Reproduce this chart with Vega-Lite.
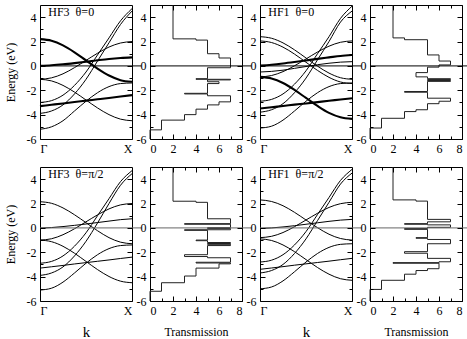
{
"$schema": "https://vega.github.io/schema/vega-lite/v6.json",
"padding": {"left": 3, "top": 2, "right": 0, "bottom": 0},
"background": "white",
"datasets": {
"b3a": [
{"band":"a","deg":2,"k":0,"E":2.2},{"band":"a","deg":2,"k":0.125,"E":2.07},{"band":"a","deg":2,"k":0.25,"E":1.69},{"band":"a","deg":2,"k":0.375,"E":1.12},{"band":"a","deg":2,"k":0.5,"E":0.45},{"band":"a","deg":2,"k":0.625,"E":-0.22},{"band":"a","deg":2,"k":0.75,"E":-0.79},{"band":"a","deg":2,"k":0.875,"E":-1.17},{"band":"a","deg":2,"k":1,"E":-1.3},
{"band":"b","deg":2,"k":0,"E":0.0},{"band":"b","deg":2,"k":0.125,"E":0.05},{"band":"b","deg":2,"k":0.25,"E":0.13},{"band":"b","deg":2,"k":0.375,"E":0.23},{"band":"b","deg":2,"k":0.5,"E":0.34},{"band":"b","deg":2,"k":0.625,"E":0.46},{"band":"b","deg":2,"k":0.75,"E":0.57},{"band":"b","deg":2,"k":0.875,"E":0.65},{"band":"b","deg":2,"k":1,"E":0.7},
{"band":"c1","deg":1,"k":0,"E":-1.1},{"band":"c1","deg":1,"k":0.125,"E":-0.98},{"band":"c1","deg":1,"k":0.25,"E":-0.65},{"band":"c1","deg":1,"k":0.375,"E":-0.14},{"band":"c1","deg":1,"k":0.5,"E":0.45},{"band":"c1","deg":1,"k":0.625,"E":1.04},{"band":"c1","deg":1,"k":0.75,"E":1.55},{"band":"c1","deg":1,"k":0.875,"E":1.88},{"band":"c1","deg":1,"k":1,"E":2.0},
{"band":"c2","deg":1,"k":0,"E":-1.1},{"band":"c2","deg":1,"k":0.125,"E":-1.23},{"band":"c2","deg":1,"k":0.25,"E":-1.6},{"band":"c2","deg":1,"k":0.375,"E":-2.15},{"band":"c2","deg":1,"k":0.5,"E":-2.8},{"band":"c2","deg":1,"k":0.625,"E":-3.45},{"band":"c2","deg":1,"k":0.75,"E":-4.0},{"band":"c2","deg":1,"k":0.875,"E":-4.37},{"band":"c2","deg":1,"k":1,"E":-4.5},
{"band":"d","deg":1,"k":0,"E":-3.0},{"band":"d","deg":1,"k":0.125,"E":-2.85},{"band":"d","deg":1,"k":0.25,"E":-2.4},{"band":"d","deg":1,"k":0.375,"E":-1.6},{"band":"d","deg":1,"k":0.5,"E":-0.5},{"band":"d","deg":1,"k":0.625,"E":0.9},{"band":"d","deg":1,"k":0.75,"E":2.3},{"band":"d","deg":1,"k":0.875,"E":3.7},{"band":"d","deg":1,"k":1,"E":4.7},
{"band":"e","deg":1,"k":0,"E":-3.9},{"band":"e","deg":1,"k":0.125,"E":-3.7},{"band":"e","deg":1,"k":0.25,"E":-3.2},{"band":"e","deg":1,"k":0.375,"E":-2.3},{"band":"e","deg":1,"k":0.5,"E":-1.1},{"band":"e","deg":1,"k":0.625,"E":0.4},{"band":"e","deg":1,"k":0.75,"E":1.9},{"band":"e","deg":1,"k":0.875,"E":3.4},{"band":"e","deg":1,"k":1,"E":4.5},
{"band":"f","deg":2,"k":0,"E":-3.3},{"band":"f","deg":2,"k":0.125,"E":-3.19},{"band":"f","deg":2,"k":0.25,"E":-3.08},{"band":"f","deg":2,"k":0.375,"E":-2.96},{"band":"f","deg":2,"k":0.5,"E":-2.85},{"band":"f","deg":2,"k":0.625,"E":-2.74},{"band":"f","deg":2,"k":0.75,"E":-2.63},{"band":"f","deg":2,"k":0.875,"E":-2.51},{"band":"f","deg":2,"k":1,"E":-2.4},
{"band":"g","deg":1,"k":0,"E":-5.2},{"band":"g","deg":1,"k":0.125,"E":-5.0},{"band":"g","deg":1,"k":0.25,"E":-4.5},{"band":"g","deg":1,"k":0.375,"E":-3.7},{"band":"g","deg":1,"k":0.5,"E":-2.9},{"band":"g","deg":1,"k":0.625,"E":-2.2},{"band":"g","deg":1,"k":0.75,"E":-1.7},{"band":"g","deg":1,"k":0.875,"E":-1.45},{"band":"g","deg":1,"k":1,"E":-1.4}
],
"b1a": [
{"band":"a1","deg":1,"k":0,"E":2.4},{"band":"a1","deg":1,"k":0.125,"E":2.27},{"band":"a1","deg":1,"k":0.25,"E":1.89},{"band":"a1","deg":1,"k":0.375,"E":1.32},{"band":"a1","deg":1,"k":0.5,"E":0.65},{"band":"a1","deg":1,"k":0.625,"E":-0.02},{"band":"a1","deg":1,"k":0.75,"E":-0.59},{"band":"a1","deg":1,"k":0.875,"E":-0.97},{"band":"a1","deg":1,"k":1,"E":-1.1},
{"band":"a2","deg":1,"k":0,"E":2.05},{"band":"a2","deg":1,"k":0.125,"E":1.92},{"band":"a2","deg":1,"k":0.25,"E":1.54},{"band":"a2","deg":1,"k":0.375,"E":0.97},{"band":"a2","deg":1,"k":0.5,"E":0.3},{"band":"a2","deg":1,"k":0.625,"E":-0.37},{"band":"a2","deg":1,"k":0.75,"E":-0.94},{"band":"a2","deg":1,"k":0.875,"E":-1.32},{"band":"a2","deg":1,"k":1,"E":-1.45},
{"band":"b1","deg":2,"k":0,"E":0.03},{"band":"b1","deg":2,"k":0.125,"E":0.1},{"band":"b1","deg":2,"k":0.25,"E":0.2},{"band":"b1","deg":2,"k":0.375,"E":0.32},{"band":"b1","deg":2,"k":0.5,"E":0.45},{"band":"b1","deg":2,"k":0.625,"E":0.58},{"band":"b1","deg":2,"k":0.75,"E":0.7},{"band":"b1","deg":2,"k":0.875,"E":0.82},{"band":"b1","deg":2,"k":1,"E":0.9},
{"band":"b2","deg":1,"k":0,"E":-0.5},{"band":"b2","deg":1,"k":0.125,"E":-0.45},{"band":"b2","deg":1,"k":0.25,"E":-0.35},{"band":"b2","deg":1,"k":0.375,"E":-0.2},{"band":"b2","deg":1,"k":0.5,"E":-0.05},{"band":"b2","deg":1,"k":0.625,"E":0.1},{"band":"b2","deg":1,"k":0.75,"E":0.22},{"band":"b2","deg":1,"k":0.875,"E":0.31},{"band":"b2","deg":1,"k":1,"E":0.35},
{"band":"c1","deg":1,"k":0,"E":-0.9},{"band":"c1","deg":1,"k":0.125,"E":-0.79},{"band":"c1","deg":1,"k":0.25,"E":-0.47},{"band":"c1","deg":1,"k":0.375,"E":0.01},{"band":"c1","deg":1,"k":0.5,"E":0.57},{"band":"c1","deg":1,"k":0.625,"E":1.14},{"band":"c1","deg":1,"k":0.75,"E":1.62},{"band":"c1","deg":1,"k":0.875,"E":1.94},{"band":"c1","deg":1,"k":1,"E":2.05},
{"band":"c2","deg":2,"k":0,"E":-0.9},{"band":"c2","deg":2,"k":0.125,"E":-1.03},{"band":"c2","deg":2,"k":0.25,"E":-1.4},{"band":"c2","deg":2,"k":0.375,"E":-1.97},{"band":"c2","deg":2,"k":0.5,"E":-2.63},{"band":"c2","deg":2,"k":0.625,"E":-3.29},{"band":"c2","deg":2,"k":0.75,"E":-3.86},{"band":"c2","deg":2,"k":0.875,"E":-4.22},{"band":"c2","deg":2,"k":1,"E":-4.35},
{"band":"d","deg":1,"k":0,"E":-2.9},{"band":"d","deg":1,"k":0.125,"E":-2.75},{"band":"d","deg":1,"k":0.25,"E":-2.3},{"band":"d","deg":1,"k":0.375,"E":-1.5},{"band":"d","deg":1,"k":0.5,"E":-0.4},{"band":"d","deg":1,"k":0.625,"E":1.0},{"band":"d","deg":1,"k":0.75,"E":2.4},{"band":"d","deg":1,"k":0.875,"E":3.9},{"band":"d","deg":1,"k":1,"E":4.9},
{"band":"e","deg":1,"k":0,"E":-3.8},{"band":"e","deg":1,"k":0.125,"E":-3.6},{"band":"e","deg":1,"k":0.25,"E":-3.1},{"band":"e","deg":1,"k":0.375,"E":-2.2},{"band":"e","deg":1,"k":0.5,"E":-1.0},{"band":"e","deg":1,"k":0.625,"E":0.5},{"band":"e","deg":1,"k":0.75,"E":2.0},{"band":"e","deg":1,"k":0.875,"E":3.6},{"band":"e","deg":1,"k":1,"E":4.5},
{"band":"f","deg":2,"k":0,"E":-3.5},{"band":"f","deg":2,"k":0.125,"E":-3.39},{"band":"f","deg":2,"k":0.25,"E":-3.29},{"band":"f","deg":2,"k":0.375,"E":-3.18},{"band":"f","deg":2,"k":0.5,"E":-3.08},{"band":"f","deg":2,"k":0.625,"E":-2.97},{"band":"f","deg":2,"k":0.75,"E":-2.86},{"band":"f","deg":2,"k":0.875,"E":-2.76},{"band":"f","deg":2,"k":1,"E":-2.65},
{"band":"g","deg":1,"k":0,"E":-5.1},{"band":"g","deg":1,"k":0.125,"E":-4.95},{"band":"g","deg":1,"k":0.25,"E":-4.45},{"band":"g","deg":1,"k":0.375,"E":-3.7},{"band":"g","deg":1,"k":0.5,"E":-2.9},{"band":"g","deg":1,"k":0.625,"E":-2.2},{"band":"g","deg":1,"k":0.75,"E":-1.7},{"band":"g","deg":1,"k":0.875,"E":-1.45},{"band":"g","deg":1,"k":1,"E":-1.4}
],
"b3b": [
{"band":"a","deg":1,"k":0,"E":2.15},{"band":"a","deg":1,"k":0.125,"E":2.02},{"band":"a","deg":1,"k":0.25,"E":1.64},{"band":"a","deg":1,"k":0.375,"E":1.08},{"band":"a","deg":1,"k":0.5,"E":0.43},{"band":"a","deg":1,"k":0.625,"E":-0.23},{"band":"a","deg":1,"k":0.75,"E":-0.8},{"band":"a","deg":1,"k":0.875,"E":-1.17},{"band":"a","deg":1,"k":1,"E":-1.3},
{"band":"b","deg":1,"k":0,"E":-0.02},{"band":"b","deg":1,"k":0.125,"E":0.03},{"band":"b","deg":1,"k":0.25,"E":0.11},{"band":"b","deg":1,"k":0.375,"E":0.21},{"band":"b","deg":1,"k":0.5,"E":0.32},{"band":"b","deg":1,"k":0.625,"E":0.44},{"band":"b","deg":1,"k":0.75,"E":0.56},{"band":"b","deg":1,"k":0.875,"E":0.68},{"band":"b","deg":1,"k":1,"E":0.75},
{"band":"c1","deg":1,"k":0,"E":-1.0},{"band":"c1","deg":1,"k":0.125,"E":-0.89},{"band":"c1","deg":1,"k":0.25,"E":-0.56},{"band":"c1","deg":1,"k":0.375,"E":-0.07},{"band":"c1","deg":1,"k":0.5,"E":0.5},{"band":"c1","deg":1,"k":0.625,"E":1.07},{"band":"c1","deg":1,"k":0.75,"E":1.56},{"band":"c1","deg":1,"k":0.875,"E":1.89},{"band":"c1","deg":1,"k":1,"E":2.0},
{"band":"c2","deg":1,"k":0,"E":-1.0},{"band":"c2","deg":1,"k":0.125,"E":-1.13},{"band":"c2","deg":1,"k":0.25,"E":-1.51},{"band":"c2","deg":1,"k":0.375,"E":-2.08},{"band":"c2","deg":1,"k":0.5,"E":-2.75},{"band":"c2","deg":1,"k":0.625,"E":-3.42},{"band":"c2","deg":1,"k":0.75,"E":-3.99},{"band":"c2","deg":1,"k":0.875,"E":-4.37},{"band":"c2","deg":1,"k":1,"E":-4.5},
{"band":"d","deg":1,"k":0,"E":-2.9},{"band":"d","deg":1,"k":0.125,"E":-2.75},{"band":"d","deg":1,"k":0.25,"E":-2.3},{"band":"d","deg":1,"k":0.375,"E":-1.5},{"band":"d","deg":1,"k":0.5,"E":-0.4},{"band":"d","deg":1,"k":0.625,"E":1.0},{"band":"d","deg":1,"k":0.75,"E":2.4},{"band":"d","deg":1,"k":0.875,"E":3.8},{"band":"d","deg":1,"k":1,"E":4.7},
{"band":"e","deg":1,"k":0,"E":-3.9},{"band":"e","deg":1,"k":0.125,"E":-3.7},{"band":"e","deg":1,"k":0.25,"E":-3.2},{"band":"e","deg":1,"k":0.375,"E":-2.3},{"band":"e","deg":1,"k":0.5,"E":-1.1},{"band":"e","deg":1,"k":0.625,"E":0.4},{"band":"e","deg":1,"k":0.75,"E":2.0},{"band":"e","deg":1,"k":0.875,"E":3.5},{"band":"e","deg":1,"k":1,"E":4.45},
{"band":"f","deg":1,"k":0,"E":-3.3},{"band":"f","deg":1,"k":0.125,"E":-3.19},{"band":"f","deg":1,"k":0.25,"E":-3.08},{"band":"f","deg":1,"k":0.375,"E":-2.96},{"band":"f","deg":1,"k":0.5,"E":-2.85},{"band":"f","deg":1,"k":0.625,"E":-2.74},{"band":"f","deg":1,"k":0.75,"E":-2.63},{"band":"f","deg":1,"k":0.875,"E":-2.51},{"band":"f","deg":1,"k":1,"E":-2.4},
{"band":"g","deg":1,"k":0,"E":-5.1},{"band":"g","deg":1,"k":0.125,"E":-4.95},{"band":"g","deg":1,"k":0.25,"E":-4.45},{"band":"g","deg":1,"k":0.375,"E":-3.7},{"band":"g","deg":1,"k":0.5,"E":-2.9},{"band":"g","deg":1,"k":0.625,"E":-2.2},{"band":"g","deg":1,"k":0.75,"E":-1.7},{"band":"g","deg":1,"k":0.875,"E":-1.45},{"band":"g","deg":1,"k":1,"E":-1.4}
],
"b1b": [
{"band":"a","deg":1,"k":0,"E":2.3},{"band":"a","deg":1,"k":0.125,"E":2.17},{"band":"a","deg":1,"k":0.25,"E":1.82},{"band":"a","deg":1,"k":0.375,"E":1.28},{"band":"a","deg":1,"k":0.5,"E":0.65},{"band":"a","deg":1,"k":0.625,"E":0.02},{"band":"a","deg":1,"k":0.75,"E":-0.52},{"band":"a","deg":1,"k":0.875,"E":-0.87},{"band":"a","deg":1,"k":1,"E":-1.0},
{"band":"b","deg":1,"k":0,"E":-0.05},{"band":"b","deg":1,"k":0.125,"E":0.0},{"band":"b","deg":1,"k":0.25,"E":0.08},{"band":"b","deg":1,"k":0.375,"E":0.18},{"band":"b","deg":1,"k":0.5,"E":0.3},{"band":"b","deg":1,"k":0.625,"E":0.42},{"band":"b","deg":1,"k":0.75,"E":0.54},{"band":"b","deg":1,"k":0.875,"E":0.64},{"band":"b","deg":1,"k":1,"E":0.7},
{"band":"c1","deg":1,"k":0,"E":-0.8},{"band":"c1","deg":1,"k":0.125,"E":-0.69},{"band":"c1","deg":1,"k":0.25,"E":-0.38},{"band":"c1","deg":1,"k":0.375,"E":0.1},{"band":"c1","deg":1,"k":0.5,"E":0.65},{"band":"c1","deg":1,"k":0.625,"E":1.2},{"band":"c1","deg":1,"k":0.75,"E":1.68},{"band":"c1","deg":1,"k":0.875,"E":1.99},{"band":"c1","deg":1,"k":1,"E":2.1},
{"band":"c2","deg":1,"k":0,"E":-0.9},{"band":"c2","deg":1,"k":0.125,"E":-1.03},{"band":"c2","deg":1,"k":0.25,"E":-1.4},{"band":"c2","deg":1,"k":0.375,"E":-1.95},{"band":"c2","deg":1,"k":0.5,"E":-2.6},{"band":"c2","deg":1,"k":0.625,"E":-3.25},{"band":"c2","deg":1,"k":0.75,"E":-3.8},{"band":"c2","deg":1,"k":0.875,"E":-4.17},{"band":"c2","deg":1,"k":1,"E":-4.3},
{"band":"d","deg":1,"k":0,"E":-2.8},{"band":"d","deg":1,"k":0.125,"E":-2.65},{"band":"d","deg":1,"k":0.25,"E":-2.2},{"band":"d","deg":1,"k":0.375,"E":-1.4},{"band":"d","deg":1,"k":0.5,"E":-0.3},{"band":"d","deg":1,"k":0.625,"E":1.1},{"band":"d","deg":1,"k":0.75,"E":2.5},{"band":"d","deg":1,"k":0.875,"E":3.9},{"band":"d","deg":1,"k":1,"E":4.8},
{"band":"e","deg":1,"k":0,"E":-3.7},{"band":"e","deg":1,"k":0.125,"E":-3.5},{"band":"e","deg":1,"k":0.25,"E":-3.0},{"band":"e","deg":1,"k":0.375,"E":-2.1},{"band":"e","deg":1,"k":0.5,"E":-0.9},{"band":"e","deg":1,"k":0.625,"E":0.6},{"band":"e","deg":1,"k":0.75,"E":2.1},{"band":"e","deg":1,"k":0.875,"E":3.6},{"band":"e","deg":1,"k":1,"E":4.5},
{"band":"f","deg":1,"k":0,"E":-3.4},{"band":"f","deg":1,"k":0.125,"E":-3.29},{"band":"f","deg":1,"k":0.25,"E":-3.18},{"band":"f","deg":1,"k":0.375,"E":-3.06},{"band":"f","deg":1,"k":0.5,"E":-2.95},{"band":"f","deg":1,"k":0.625,"E":-2.84},{"band":"f","deg":1,"k":0.75,"E":-2.73},{"band":"f","deg":1,"k":0.875,"E":-2.61},{"band":"f","deg":1,"k":1,"E":-2.5},
{"band":"g","deg":1,"k":0,"E":-5.0},{"band":"g","deg":1,"k":0.125,"E":-4.85},{"band":"g","deg":1,"k":0.25,"E":-4.35},{"band":"g","deg":1,"k":0.375,"E":-3.6},{"band":"g","deg":1,"k":0.5,"E":-2.8},{"band":"g","deg":1,"k":0.625,"E":-2.1},{"band":"g","deg":1,"k":0.75,"E":-1.6},{"band":"g","deg":1,"k":0.875,"E":-1.35},{"band":"g","deg":1,"k":1,"E":-1.3}
],
"t3a": [
{"i":0,"T":2,"E":5},{"i":1,"T":2,"E":2.22},{"i":2,"T":4,"E":2.22},{"i":3,"T":4,"E":2.12},{"i":4,"T":5,"E":2.12},{"i":5,"T":5,"E":1.0},{"i":6,"T":6,"E":1.0},{"i":7,"T":6,"E":0.65},{"i":8,"T":7,"E":0.65},{"i":9,"T":7,"E":-0.15},{"i":10,"T":5,"E":-0.15},{"i":11,"T":5,"E":-1.05},{"i":12,"T":4,"E":-1.05},{"i":13,"T":4,"E":-1.1},{"i":14,"T":7,"E":-1.1},{"i":15,"T":7,"E":-1.15},{"i":16,"T":5,"E":-1.15},{"i":17,"T":5,"E":-1.3},{"i":18,"T":6,"E":-1.3},{"i":19,"T":6,"E":-1.45},{"i":20,"T":5,"E":-1.45},{"i":21,"T":5,"E":-2.25},{"i":22,"T":3,"E":-2.25},{"i":23,"T":3,"E":-2.3},{"i":24,"T":5,"E":-2.3},{"i":25,"T":5,"E":-2.45},{"i":26,"T":7,"E":-2.45},{"i":27,"T":7,"E":-2.95},{"i":28,"T":6,"E":-2.95},{"i":29,"T":6,"E":-3.2},{"i":30,"T":5,"E":-3.2},{"i":31,"T":5,"E":-3.55},{"i":32,"T":4,"E":-3.55},{"i":33,"T":4,"E":-4.0},{"i":34,"T":3,"E":-4.0},{"i":35,"T":3,"E":-4.45},{"i":36,"T":1,"E":-4.45},{"i":37,"T":1,"E":-5.25},{"i":38,"T":0,"E":-5.25},{"i":39,"T":0,"E":-6}
],
"t1a": [
{"i":0,"T":2,"E":5},{"i":1,"T":2,"E":2.3},{"i":2,"T":3,"E":2.3},{"i":3,"T":3,"E":2.15},{"i":4,"T":5,"E":2.15},{"i":5,"T":5,"E":0.9},{"i":6,"T":6,"E":0.9},{"i":7,"T":6,"E":0.4},{"i":8,"T":7,"E":0.4},{"i":9,"T":7,"E":0.08},{"i":10,"T":6,"E":0.08},{"i":11,"T":6,"E":-0.1},{"i":12,"T":5,"E":-0.1},{"i":13,"T":5,"E":-0.55},{"i":14,"T":4,"E":-0.55},{"i":15,"T":4,"E":-0.9},{"i":16,"T":5,"E":-0.9},{"i":17,"T":5,"E":-1.05},{"i":18,"T":7,"E":-1.05},{"i":19,"T":7,"E":-1.12},{"i":20,"T":5,"E":-1.12},{"i":21,"T":5,"E":-1.2},{"i":22,"T":7,"E":-1.2},{"i":23,"T":7,"E":-1.27},{"i":24,"T":5,"E":-1.27},{"i":25,"T":5,"E":-2.1},{"i":26,"T":3,"E":-2.1},{"i":27,"T":3,"E":-2.16},{"i":28,"T":5,"E":-2.16},{"i":29,"T":5,"E":-2.65},{"i":30,"T":7,"E":-2.65},{"i":31,"T":7,"E":-2.9},{"i":32,"T":6,"E":-2.9},{"i":33,"T":6,"E":-3.1},{"i":34,"T":5,"E":-3.1},{"i":35,"T":5,"E":-3.6},{"i":36,"T":4,"E":-3.6},{"i":37,"T":4,"E":-3.75},{"i":38,"T":3,"E":-3.75},{"i":39,"T":3,"E":-4.3},{"i":40,"T":1,"E":-4.3},{"i":41,"T":1,"E":-5.1},{"i":42,"T":0,"E":-5.1},{"i":43,"T":0,"E":-6}
],
"t3b": [
{"i":0,"T":2,"E":5},{"i":1,"T":2,"E":2.19},{"i":2,"T":4,"E":2.19},{"i":3,"T":4,"E":2.1},{"i":4,"T":5,"E":2.1},{"i":5,"T":5,"E":0.75},{"i":6,"T":7,"E":0.75},{"i":7,"T":7,"E":0.35},{"i":8,"T":3,"E":0.35},{"i":9,"T":3,"E":0.3},{"i":10,"T":7,"E":0.3},{"i":11,"T":7,"E":0.02},{"i":12,"T":5,"E":0.02},{"i":13,"T":5,"E":-0.05},{"i":14,"T":7,"E":-0.05},{"i":15,"T":7,"E":-0.15},{"i":16,"T":3,"E":-0.15},{"i":17,"T":3,"E":-0.2},{"i":18,"T":5,"E":-0.2},{"i":19,"T":5,"E":-1.0},{"i":20,"T":4,"E":-1.0},{"i":21,"T":4,"E":-1.05},{"i":22,"T":5,"E":-1.05},{"i":23,"T":5,"E":-1.2},{"i":24,"T":7,"E":-1.2},{"i":25,"T":7,"E":-1.28},{"i":26,"T":5,"E":-1.28},{"i":27,"T":5,"E":-1.35},{"i":28,"T":7,"E":-1.35},{"i":29,"T":7,"E":-1.45},{"i":30,"T":5,"E":-1.45},{"i":31,"T":5,"E":-2.2},{"i":32,"T":3,"E":-2.2},{"i":33,"T":3,"E":-2.35},{"i":34,"T":5,"E":-2.35},{"i":35,"T":5,"E":-2.45},{"i":36,"T":7,"E":-2.45},{"i":37,"T":7,"E":-2.82},{"i":38,"T":4,"E":-2.82},{"i":39,"T":4,"E":-2.88},{"i":40,"T":7,"E":-2.88},{"i":41,"T":7,"E":-2.95},{"i":42,"T":6,"E":-2.95},{"i":43,"T":6,"E":-3.3},{"i":44,"T":4,"E":-3.3},{"i":45,"T":4,"E":-3.95},{"i":46,"T":3,"E":-3.95},{"i":47,"T":3,"E":-4.5},{"i":48,"T":1,"E":-4.5},{"i":49,"T":1,"E":-5.2},{"i":50,"T":0,"E":-5.2},{"i":51,"T":0,"E":-6}
],
"t1b": [
{"i":0,"T":2,"E":5},{"i":1,"T":2,"E":2.3},{"i":2,"T":4,"E":2.3},{"i":3,"T":4,"E":2.2},{"i":4,"T":5,"E":2.2},{"i":5,"T":5,"E":0.7},{"i":6,"T":7,"E":0.7},{"i":7,"T":7,"E":0.5},{"i":8,"T":5,"E":0.5},{"i":9,"T":5,"E":0.35},{"i":10,"T":3,"E":0.35},{"i":11,"T":3,"E":0.3},{"i":12,"T":5,"E":0.3},{"i":13,"T":5,"E":0.25},{"i":14,"T":7,"E":0.25},{"i":15,"T":7,"E":0.05},{"i":16,"T":5,"E":0.05},{"i":17,"T":5,"E":-0.05},{"i":18,"T":3,"E":-0.05},{"i":19,"T":3,"E":-0.12},{"i":20,"T":5,"E":-0.12},{"i":21,"T":5,"E":-0.8},{"i":22,"T":4,"E":-0.8},{"i":23,"T":4,"E":-0.85},{"i":24,"T":5,"E":-0.85},{"i":25,"T":5,"E":-0.95},{"i":26,"T":7,"E":-0.95},{"i":27,"T":7,"E":-1.3},{"i":28,"T":5,"E":-1.3},{"i":29,"T":5,"E":-1.95},{"i":30,"T":3,"E":-1.95},{"i":31,"T":3,"E":-2.08},{"i":32,"T":5,"E":-2.08},{"i":33,"T":5,"E":-2.5},{"i":34,"T":7,"E":-2.5},{"i":35,"T":7,"E":-2.78},{"i":36,"T":6,"E":-2.78},{"i":37,"T":6,"E":-2.85},{"i":38,"T":2,"E":-2.85},{"i":39,"T":2,"E":-2.9},{"i":40,"T":6,"E":-2.9},{"i":41,"T":6,"E":-3.35},{"i":42,"T":5,"E":-3.35},{"i":43,"T":5,"E":-3.5},{"i":44,"T":4,"E":-3.5},{"i":45,"T":4,"E":-3.8},{"i":46,"T":3,"E":-3.8},{"i":47,"T":3,"E":-4.3},{"i":48,"T":1,"E":-4.3},{"i":49,"T":1,"E":-5.05},{"i":50,"T":0,"E":-5.05},{"i":51,"T":0,"E":-6}
]
},
"columns": 4,
"spacing": {"row": 28, "column": 18},
"bounds": "flush",
"concat": [
{"width": 92, "height": 134,
 "layer": [
  {"data": {"name": "b3a"}, "mark": {"type": "line", "interpolate": "monotone", "color": "black"},
   "encoding": {
    "x": {"field": "k", "type": "quantitative", "scale": {"domain": [0, 1]}, "axis": {"orient": "bottom", "values": [0, 1], "ticks": false, "labelExpr": "datum.value === 0 ? 'Γ' : 'X'", "labelPadding": 4, "title": null}},
    "y": {"field": "E", "type": "quantitative", "scale": {"domain": [-6, 5], "nice": false, "zero": false}, "axis": {"orient": "left", "values": [-6,-4,-2,0,2,4], "offset": -5, "tickSize": 5, "zindex": 1, "labelExpr": "'' + datum.value", "labelPadding": 4, "title": "Energy (eV)", "titlePadding": 9}},
    "detail": {"field": "band"},
    "strokeWidth": {"field": "deg", "type": "quantitative", "scale": {"domain": [1, 2], "range": [1.0, 2.1]}, "legend": null}}},
  {"data": {"values": [{"E": 0}]}, "mark": {"type": "rule", "color": "black", "strokeWidth": 1},
   "encoding": {"x": {"datum": 0, "type": "quantitative", "scale": {"domain": [0, 1]}, "axis": null}, "x2": {"datum": 1.1},
    "y": {"field": "E", "type": "quantitative", "scale": {"domain": [-6, 5], "nice": false, "zero": false}, "axis": {"orient": "right", "values": [-6,-4,-2,0,2,4], "offset": -5, "tickSize": 5, "zindex": 1, "labels": false, "title": null}}}},
  {"data": {"values": [{"E": 0}]}, "mark": {"type": "rule", "strokeOpacity": 0},
   "encoding": {"x": {"datum": 0, "type": "quantitative", "scale": {"domain": [0, 1]}, "axis": null}, "x2": {"datum": 1},
    "y": {"field": "E", "type": "quantitative", "scale": {"domain": [-6, 5], "nice": false, "zero": false}, "axis": {"orient": "left", "values": [-5,-3,-1,1,3], "offset": -3, "tickSize": 3, "zindex": 1, "labels": false, "title": null}}}},
  {"data": {"values": [{"E": 0}]}, "mark": {"type": "rule", "strokeOpacity": 0},
   "encoding": {"x": {"datum": 0, "type": "quantitative", "scale": {"domain": [0, 1]}, "axis": null}, "x2": {"datum": 1},
    "y": {"field": "E", "type": "quantitative", "scale": {"domain": [-6, 5], "nice": false, "zero": false}, "axis": {"orient": "right", "values": [-5,-3,-1,1,3], "offset": -3, "tickSize": 3, "zindex": 1, "labels": false, "title": null}}}},
  {"data": {"values": [{"label": "HF3\u00a0\u00a0θ=0"}]}, "mark": {"type": "text", "align": "left", "baseline": "middle", "fontSize": 12, "font": "Liberation Serif", "color": "black"},
   "encoding": {"x": {"datum": 0.09, "type": "quantitative", "scale": {"domain": [0, 1]}, "axis": null}, "y": {"datum": 4.45, "type": "quantitative", "scale": {"domain": [-6, 5], "nice": false, "zero": false}, "axis": null}, "text": {"field": "label"}}}
 ],
 "resolve": {"axis": {"x": "independent", "y": "independent"}}
},
{"width": 92, "height": 134,
 "layer": [
  {"data": {"name": "t3a"}, "mark": {"type": "line", "color": "#222", "strokeWidth": 1},
   "encoding": {
    "x": {"field": "T", "type": "quantitative", "scale": {"domain": [0, 8]}, "axis": {"orient": "bottom", "values": [0,2,4,6,8], "offset": -5, "tickSize": 5, "zindex": 1, "labelExpr": "'' + datum.value", "labelPadding": 4, "title": null}},
    "y": {"field": "E", "type": "quantitative", "scale": {"domain": [-6, 5], "nice": false, "zero": false}, "axis": {"orient": "left", "values": [-6,-4,-2,0,2,4], "offset": -5, "tickSize": 5, "zindex": 1, "labelExpr": "'' + datum.value", "labelPadding": 4, "title": null}},
    "order": {"field": "i", "type": "quantitative"}}},
  {"data": {"values": [{"E": 0}]}, "mark": {"type": "rule", "color": "black", "strokeWidth": 1},
   "encoding": {"x": {"datum": 0, "type": "quantitative", "scale": {"domain": [0, 8]}, "axis": {"orient": "top", "values": [0,2,4,6,8], "offset": -5, "tickSize": 5, "zindex": 1, "labels": false, "title": null}}, "x2": {"datum": 8.8},
    "y": {"field": "E", "type": "quantitative", "scale": {"domain": [-6, 5], "nice": false, "zero": false}, "axis": {"orient": "right", "values": [-6,-4,-2,0,2,4], "offset": -5, "tickSize": 5, "zindex": 1, "labels": false, "title": null}}}},
  {"data": {"values": [{"E": 0}]}, "mark": {"type": "rule", "strokeOpacity": 0},
   "encoding": {"x": {"datum": 0, "type": "quantitative", "scale": {"domain": [0, 8]}, "axis": {"orient": "bottom", "values": [1,3,5,7], "offset": -3, "tickSize": 3, "zindex": 1, "labels": false, "title": null}}, "x2": {"datum": 8},
    "y": {"field": "E", "type": "quantitative", "scale": {"domain": [-6, 5], "nice": false, "zero": false}, "axis": {"orient": "left", "values": [-5,-3,-1,1,3], "offset": -3, "tickSize": 3, "zindex": 1, "labels": false, "title": null}}}},
  {"data": {"values": [{"E": 0}]}, "mark": {"type": "rule", "strokeOpacity": 0},
   "encoding": {"x": {"datum": 0, "type": "quantitative", "scale": {"domain": [0, 8]}, "axis": {"orient": "top", "values": [1,3,5,7], "offset": -3, "tickSize": 3, "zindex": 1, "labels": false, "title": null}}, "x2": {"datum": 8},
    "y": {"field": "E", "type": "quantitative", "scale": {"domain": [-6, 5], "nice": false, "zero": false}, "axis": {"orient": "right", "values": [-5,-3,-1,1,3], "offset": -3, "tickSize": 3, "zindex": 1, "labels": false, "title": null}}}}
 ],
 "resolve": {"axis": {"x": "independent", "y": "independent"}}
},
{"width": 92, "height": 134,
 "layer": [
  {"data": {"name": "b1a"}, "mark": {"type": "line", "interpolate": "monotone", "color": "black"},
   "encoding": {
    "x": {"field": "k", "type": "quantitative", "scale": {"domain": [0, 1]}, "axis": {"orient": "bottom", "values": [0, 1], "ticks": false, "labelExpr": "datum.value === 0 ? 'Γ' : 'X'", "labelPadding": 4, "title": null}},
    "y": {"field": "E", "type": "quantitative", "scale": {"domain": [-6, 5], "nice": false, "zero": false}, "axis": {"orient": "left", "values": [-6,-4,-2,0,2,4], "offset": -5, "tickSize": 5, "zindex": 1, "labelExpr": "'' + datum.value", "labelPadding": 4, "title": null}},
    "detail": {"field": "band"},
    "strokeWidth": {"field": "deg", "type": "quantitative", "scale": {"domain": [1, 2], "range": [1.0, 2.1]}, "legend": null}}},
  {"data": {"values": [{"E": 0}]}, "mark": {"type": "rule", "color": "black", "strokeWidth": 1},
   "encoding": {"x": {"datum": 0, "type": "quantitative", "scale": {"domain": [0, 1]}, "axis": null}, "x2": {"datum": 1.1},
    "y": {"field": "E", "type": "quantitative", "scale": {"domain": [-6, 5], "nice": false, "zero": false}, "axis": {"orient": "right", "values": [-6,-4,-2,0,2,4], "offset": -5, "tickSize": 5, "zindex": 1, "labels": false, "title": null}}}},
  {"data": {"values": [{"E": 0}]}, "mark": {"type": "rule", "strokeOpacity": 0},
   "encoding": {"x": {"datum": 0, "type": "quantitative", "scale": {"domain": [0, 1]}, "axis": null}, "x2": {"datum": 1},
    "y": {"field": "E", "type": "quantitative", "scale": {"domain": [-6, 5], "nice": false, "zero": false}, "axis": {"orient": "left", "values": [-5,-3,-1,1,3], "offset": -3, "tickSize": 3, "zindex": 1, "labels": false, "title": null}}}},
  {"data": {"values": [{"E": 0}]}, "mark": {"type": "rule", "strokeOpacity": 0},
   "encoding": {"x": {"datum": 0, "type": "quantitative", "scale": {"domain": [0, 1]}, "axis": null}, "x2": {"datum": 1},
    "y": {"field": "E", "type": "quantitative", "scale": {"domain": [-6, 5], "nice": false, "zero": false}, "axis": {"orient": "right", "values": [-5,-3,-1,1,3], "offset": -3, "tickSize": 3, "zindex": 1, "labels": false, "title": null}}}},
  {"data": {"values": [{"label": "HF1\u00a0\u00a0θ=0"}]}, "mark": {"type": "text", "align": "left", "baseline": "middle", "fontSize": 12, "font": "Liberation Serif", "color": "black"},
   "encoding": {"x": {"datum": 0.09, "type": "quantitative", "scale": {"domain": [0, 1]}, "axis": null}, "y": {"datum": 4.45, "type": "quantitative", "scale": {"domain": [-6, 5], "nice": false, "zero": false}, "axis": null}, "text": {"field": "label"}}}
 ],
 "resolve": {"axis": {"x": "independent", "y": "independent"}}
},
{"width": 92, "height": 134,
 "layer": [
  {"data": {"name": "t1a"}, "mark": {"type": "line", "color": "#222", "strokeWidth": 1},
   "encoding": {
    "x": {"field": "T", "type": "quantitative", "scale": {"domain": [0, 8]}, "axis": {"orient": "bottom", "values": [0,2,4,6,8], "offset": -5, "tickSize": 5, "zindex": 1, "labelExpr": "'' + datum.value", "labelPadding": 4, "title": null}},
    "y": {"field": "E", "type": "quantitative", "scale": {"domain": [-6, 5], "nice": false, "zero": false}, "axis": {"orient": "left", "values": [-6,-4,-2,0,2,4], "offset": -5, "tickSize": 5, "zindex": 1, "labelExpr": "'' + datum.value", "labelPadding": 4, "title": null}},
    "order": {"field": "i", "type": "quantitative"}}},
  {"data": {"values": [{"E": 0}]}, "mark": {"type": "rule", "color": "black", "strokeWidth": 1},
   "encoding": {"x": {"datum": 0, "type": "quantitative", "scale": {"domain": [0, 8]}, "axis": {"orient": "top", "values": [0,2,4,6,8], "offset": -5, "tickSize": 5, "zindex": 1, "labels": false, "title": null}}, "x2": {"datum": 8.8},
    "y": {"field": "E", "type": "quantitative", "scale": {"domain": [-6, 5], "nice": false, "zero": false}, "axis": {"orient": "right", "values": [-6,-4,-2,0,2,4], "offset": -5, "tickSize": 5, "zindex": 1, "labels": false, "title": null}}}},
  {"data": {"values": [{"E": 0}]}, "mark": {"type": "rule", "strokeOpacity": 0},
   "encoding": {"x": {"datum": 0, "type": "quantitative", "scale": {"domain": [0, 8]}, "axis": {"orient": "bottom", "values": [1,3,5,7], "offset": -3, "tickSize": 3, "zindex": 1, "labels": false, "title": null}}, "x2": {"datum": 8},
    "y": {"field": "E", "type": "quantitative", "scale": {"domain": [-6, 5], "nice": false, "zero": false}, "axis": {"orient": "left", "values": [-5,-3,-1,1,3], "offset": -3, "tickSize": 3, "zindex": 1, "labels": false, "title": null}}}},
  {"data": {"values": [{"E": 0}]}, "mark": {"type": "rule", "strokeOpacity": 0},
   "encoding": {"x": {"datum": 0, "type": "quantitative", "scale": {"domain": [0, 8]}, "axis": {"orient": "top", "values": [1,3,5,7], "offset": -3, "tickSize": 3, "zindex": 1, "labels": false, "title": null}}, "x2": {"datum": 8},
    "y": {"field": "E", "type": "quantitative", "scale": {"domain": [-6, 5], "nice": false, "zero": false}, "axis": {"orient": "right", "values": [-5,-3,-1,1,3], "offset": -3, "tickSize": 3, "zindex": 1, "labels": false, "title": null}}}}
 ],
 "resolve": {"axis": {"x": "independent", "y": "independent"}}
},
{"width": 92, "height": 134,
 "layer": [
  {"data": {"name": "b3b"}, "mark": {"type": "line", "interpolate": "monotone", "color": "black"},
   "encoding": {
    "x": {"field": "k", "type": "quantitative", "scale": {"domain": [0, 1]}, "axis": {"orient": "bottom", "values": [0, 1], "ticks": false, "labelExpr": "datum.value === 0 ? 'Γ' : 'X'", "labelPadding": 4, "title": "k", "titleFontSize": 15, "titlePadding": 8}},
    "y": {"field": "E", "type": "quantitative", "scale": {"domain": [-6, 5], "nice": false, "zero": false}, "axis": {"orient": "left", "values": [-6,-4,-2,0,2,4], "offset": -5, "tickSize": 5, "zindex": 1, "labelExpr": "'' + datum.value", "labelPadding": 4, "title": "Energy (eV)", "titlePadding": 9}},
    "detail": {"field": "band"},
    "strokeWidth": {"field": "deg", "type": "quantitative", "scale": {"domain": [1, 2], "range": [1.0, 2.1]}, "legend": null}}},
  {"data": {"values": [{"E": 0}]}, "mark": {"type": "rule", "color": "#666", "strokeWidth": 1},
   "encoding": {"x": {"datum": 0, "type": "quantitative", "scale": {"domain": [0, 1]}, "axis": null}, "x2": {"datum": 1.1},
    "y": {"field": "E", "type": "quantitative", "scale": {"domain": [-6, 5], "nice": false, "zero": false}, "axis": {"orient": "right", "values": [-6,-4,-2,0,2,4], "offset": -5, "tickSize": 5, "zindex": 1, "labels": false, "title": null}}}},
  {"data": {"values": [{"E": 0}]}, "mark": {"type": "rule", "strokeOpacity": 0},
   "encoding": {"x": {"datum": 0, "type": "quantitative", "scale": {"domain": [0, 1]}, "axis": null}, "x2": {"datum": 1},
    "y": {"field": "E", "type": "quantitative", "scale": {"domain": [-6, 5], "nice": false, "zero": false}, "axis": {"orient": "left", "values": [-5,-3,-1,1,3], "offset": -3, "tickSize": 3, "zindex": 1, "labels": false, "title": null}}}},
  {"data": {"values": [{"E": 0}]}, "mark": {"type": "rule", "strokeOpacity": 0},
   "encoding": {"x": {"datum": 0, "type": "quantitative", "scale": {"domain": [0, 1]}, "axis": null}, "x2": {"datum": 1},
    "y": {"field": "E", "type": "quantitative", "scale": {"domain": [-6, 5], "nice": false, "zero": false}, "axis": {"orient": "right", "values": [-5,-3,-1,1,3], "offset": -3, "tickSize": 3, "zindex": 1, "labels": false, "title": null}}}},
  {"data": {"values": [{"label": "HF3\u00a0\u00a0θ=π/2"}]}, "mark": {"type": "text", "align": "left", "baseline": "middle", "fontSize": 12, "font": "Liberation Serif", "color": "black"},
   "encoding": {"x": {"datum": 0.09, "type": "quantitative", "scale": {"domain": [0, 1]}, "axis": null}, "y": {"datum": 4.45, "type": "quantitative", "scale": {"domain": [-6, 5], "nice": false, "zero": false}, "axis": null}, "text": {"field": "label"}}}
 ],
 "resolve": {"axis": {"x": "independent", "y": "independent"}}
},
{"width": 92, "height": 134,
 "layer": [
  {"data": {"name": "t3b"}, "mark": {"type": "line", "color": "#222", "strokeWidth": 1},
   "encoding": {
    "x": {"field": "T", "type": "quantitative", "scale": {"domain": [0, 8]}, "axis": {"orient": "bottom", "values": [0,2,4,6,8], "offset": -5, "tickSize": 5, "zindex": 1, "labelExpr": "'' + datum.value", "labelPadding": 4, "title": "Transmission", "titlePadding": 10}},
    "y": {"field": "E", "type": "quantitative", "scale": {"domain": [-6, 5], "nice": false, "zero": false}, "axis": {"orient": "left", "values": [-6,-4,-2,0,2,4], "offset": -5, "tickSize": 5, "zindex": 1, "labelExpr": "'' + datum.value", "labelPadding": 4, "title": null}},
    "order": {"field": "i", "type": "quantitative"}}},
  {"data": {"values": [{"E": 0}]}, "mark": {"type": "rule", "color": "#666", "strokeWidth": 1},
   "encoding": {"x": {"datum": 0, "type": "quantitative", "scale": {"domain": [0, 8]}, "axis": {"orient": "top", "values": [0,2,4,6,8], "offset": -5, "tickSize": 5, "zindex": 1, "labels": false, "title": null}}, "x2": {"datum": 8.8},
    "y": {"field": "E", "type": "quantitative", "scale": {"domain": [-6, 5], "nice": false, "zero": false}, "axis": {"orient": "right", "values": [-6,-4,-2,0,2,4], "offset": -5, "tickSize": 5, "zindex": 1, "labels": false, "title": null}}}},
  {"data": {"values": [{"E": 0}]}, "mark": {"type": "rule", "strokeOpacity": 0},
   "encoding": {"x": {"datum": 0, "type": "quantitative", "scale": {"domain": [0, 8]}, "axis": {"orient": "bottom", "values": [1,3,5,7], "offset": -3, "tickSize": 3, "zindex": 1, "labels": false, "title": null}}, "x2": {"datum": 8},
    "y": {"field": "E", "type": "quantitative", "scale": {"domain": [-6, 5], "nice": false, "zero": false}, "axis": {"orient": "left", "values": [-5,-3,-1,1,3], "offset": -3, "tickSize": 3, "zindex": 1, "labels": false, "title": null}}}},
  {"data": {"values": [{"E": 0}]}, "mark": {"type": "rule", "strokeOpacity": 0},
   "encoding": {"x": {"datum": 0, "type": "quantitative", "scale": {"domain": [0, 8]}, "axis": {"orient": "top", "values": [1,3,5,7], "offset": -3, "tickSize": 3, "zindex": 1, "labels": false, "title": null}}, "x2": {"datum": 8},
    "y": {"field": "E", "type": "quantitative", "scale": {"domain": [-6, 5], "nice": false, "zero": false}, "axis": {"orient": "right", "values": [-5,-3,-1,1,3], "offset": -3, "tickSize": 3, "zindex": 1, "labels": false, "title": null}}}}
 ],
 "resolve": {"axis": {"x": "independent", "y": "independent"}}
},
{"width": 92, "height": 134,
 "layer": [
  {"data": {"name": "b1b"}, "mark": {"type": "line", "interpolate": "monotone", "color": "black"},
   "encoding": {
    "x": {"field": "k", "type": "quantitative", "scale": {"domain": [0, 1]}, "axis": {"orient": "bottom", "values": [0, 1], "ticks": false, "labelExpr": "datum.value === 0 ? 'Γ' : 'X'", "labelPadding": 4, "title": "k", "titleFontSize": 15, "titlePadding": 8}},
    "y": {"field": "E", "type": "quantitative", "scale": {"domain": [-6, 5], "nice": false, "zero": false}, "axis": {"orient": "left", "values": [-6,-4,-2,0,2,4], "offset": -5, "tickSize": 5, "zindex": 1, "labelExpr": "'' + datum.value", "labelPadding": 4, "title": null}},
    "detail": {"field": "band"},
    "strokeWidth": {"field": "deg", "type": "quantitative", "scale": {"domain": [1, 2], "range": [1.0, 2.1]}, "legend": null}}},
  {"data": {"values": [{"E": 0}]}, "mark": {"type": "rule", "color": "#666", "strokeWidth": 1},
   "encoding": {"x": {"datum": 0, "type": "quantitative", "scale": {"domain": [0, 1]}, "axis": null}, "x2": {"datum": 1.1},
    "y": {"field": "E", "type": "quantitative", "scale": {"domain": [-6, 5], "nice": false, "zero": false}, "axis": {"orient": "right", "values": [-6,-4,-2,0,2,4], "offset": -5, "tickSize": 5, "zindex": 1, "labels": false, "title": null}}}},
  {"data": {"values": [{"E": 0}]}, "mark": {"type": "rule", "strokeOpacity": 0},
   "encoding": {"x": {"datum": 0, "type": "quantitative", "scale": {"domain": [0, 1]}, "axis": null}, "x2": {"datum": 1},
    "y": {"field": "E", "type": "quantitative", "scale": {"domain": [-6, 5], "nice": false, "zero": false}, "axis": {"orient": "left", "values": [-5,-3,-1,1,3], "offset": -3, "tickSize": 3, "zindex": 1, "labels": false, "title": null}}}},
  {"data": {"values": [{"E": 0}]}, "mark": {"type": "rule", "strokeOpacity": 0},
   "encoding": {"x": {"datum": 0, "type": "quantitative", "scale": {"domain": [0, 1]}, "axis": null}, "x2": {"datum": 1},
    "y": {"field": "E", "type": "quantitative", "scale": {"domain": [-6, 5], "nice": false, "zero": false}, "axis": {"orient": "right", "values": [-5,-3,-1,1,3], "offset": -3, "tickSize": 3, "zindex": 1, "labels": false, "title": null}}}},
  {"data": {"values": [{"label": "HF1\u00a0\u00a0θ=π/2"}]}, "mark": {"type": "text", "align": "left", "baseline": "middle", "fontSize": 12, "font": "Liberation Serif", "color": "black"},
   "encoding": {"x": {"datum": 0.09, "type": "quantitative", "scale": {"domain": [0, 1]}, "axis": null}, "y": {"datum": 4.45, "type": "quantitative", "scale": {"domain": [-6, 5], "nice": false, "zero": false}, "axis": null}, "text": {"field": "label"}}}
 ],
 "resolve": {"axis": {"x": "independent", "y": "independent"}}
},
{"width": 92, "height": 134,
 "layer": [
  {"data": {"name": "t1b"}, "mark": {"type": "line", "color": "#222", "strokeWidth": 1},
   "encoding": {
    "x": {"field": "T", "type": "quantitative", "scale": {"domain": [0, 8]}, "axis": {"orient": "bottom", "values": [0,2,4,6,8], "offset": -5, "tickSize": 5, "zindex": 1, "labelExpr": "'' + datum.value", "labelPadding": 4, "title": "Transmission", "titlePadding": 10}},
    "y": {"field": "E", "type": "quantitative", "scale": {"domain": [-6, 5], "nice": false, "zero": false}, "axis": {"orient": "left", "values": [-6,-4,-2,0,2,4], "offset": -5, "tickSize": 5, "zindex": 1, "labelExpr": "'' + datum.value", "labelPadding": 4, "title": null}},
    "order": {"field": "i", "type": "quantitative"}}},
  {"data": {"values": [{"E": 0}]}, "mark": {"type": "rule", "color": "#666", "strokeWidth": 1},
   "encoding": {"x": {"datum": 0, "type": "quantitative", "scale": {"domain": [0, 8]}, "axis": {"orient": "top", "values": [0,2,4,6,8], "offset": -5, "tickSize": 5, "zindex": 1, "labels": false, "title": null}}, "x2": {"datum": 8.8},
    "y": {"field": "E", "type": "quantitative", "scale": {"domain": [-6, 5], "nice": false, "zero": false}, "axis": {"orient": "right", "values": [-6,-4,-2,0,2,4], "offset": -5, "tickSize": 5, "zindex": 1, "labels": false, "title": null}}}},
  {"data": {"values": [{"E": 0}]}, "mark": {"type": "rule", "strokeOpacity": 0},
   "encoding": {"x": {"datum": 0, "type": "quantitative", "scale": {"domain": [0, 8]}, "axis": {"orient": "bottom", "values": [1,3,5,7], "offset": -3, "tickSize": 3, "zindex": 1, "labels": false, "title": null}}, "x2": {"datum": 8},
    "y": {"field": "E", "type": "quantitative", "scale": {"domain": [-6, 5], "nice": false, "zero": false}, "axis": {"orient": "left", "values": [-5,-3,-1,1,3], "offset": -3, "tickSize": 3, "zindex": 1, "labels": false, "title": null}}}},
  {"data": {"values": [{"E": 0}]}, "mark": {"type": "rule", "strokeOpacity": 0},
   "encoding": {"x": {"datum": 0, "type": "quantitative", "scale": {"domain": [0, 8]}, "axis": {"orient": "top", "values": [1,3,5,7], "offset": -3, "tickSize": 3, "zindex": 1, "labels": false, "title": null}}, "x2": {"datum": 8},
    "y": {"field": "E", "type": "quantitative", "scale": {"domain": [-6, 5], "nice": false, "zero": false}, "axis": {"orient": "right", "values": [-5,-3,-1,1,3], "offset": -3, "tickSize": 3, "zindex": 1, "labels": false, "title": null}}}}
 ],
 "resolve": {"axis": {"x": "independent", "y": "independent"}}
}
],
"config": {
 "font": "Liberation Serif",
 "view": {"stroke": "black", "strokeWidth": 1},
 "axis": {"domain": false, "grid": false, "ticks": true, "labelFont": "Liberation Serif", "labelFontSize": 12, "labelColor": "black", "tickColor": "black", "tickWidth": 1, "titleFont": "Liberation Serif", "titleFontSize": 12, "titleFontWeight": "normal", "titleColor": "black"}
}
}
